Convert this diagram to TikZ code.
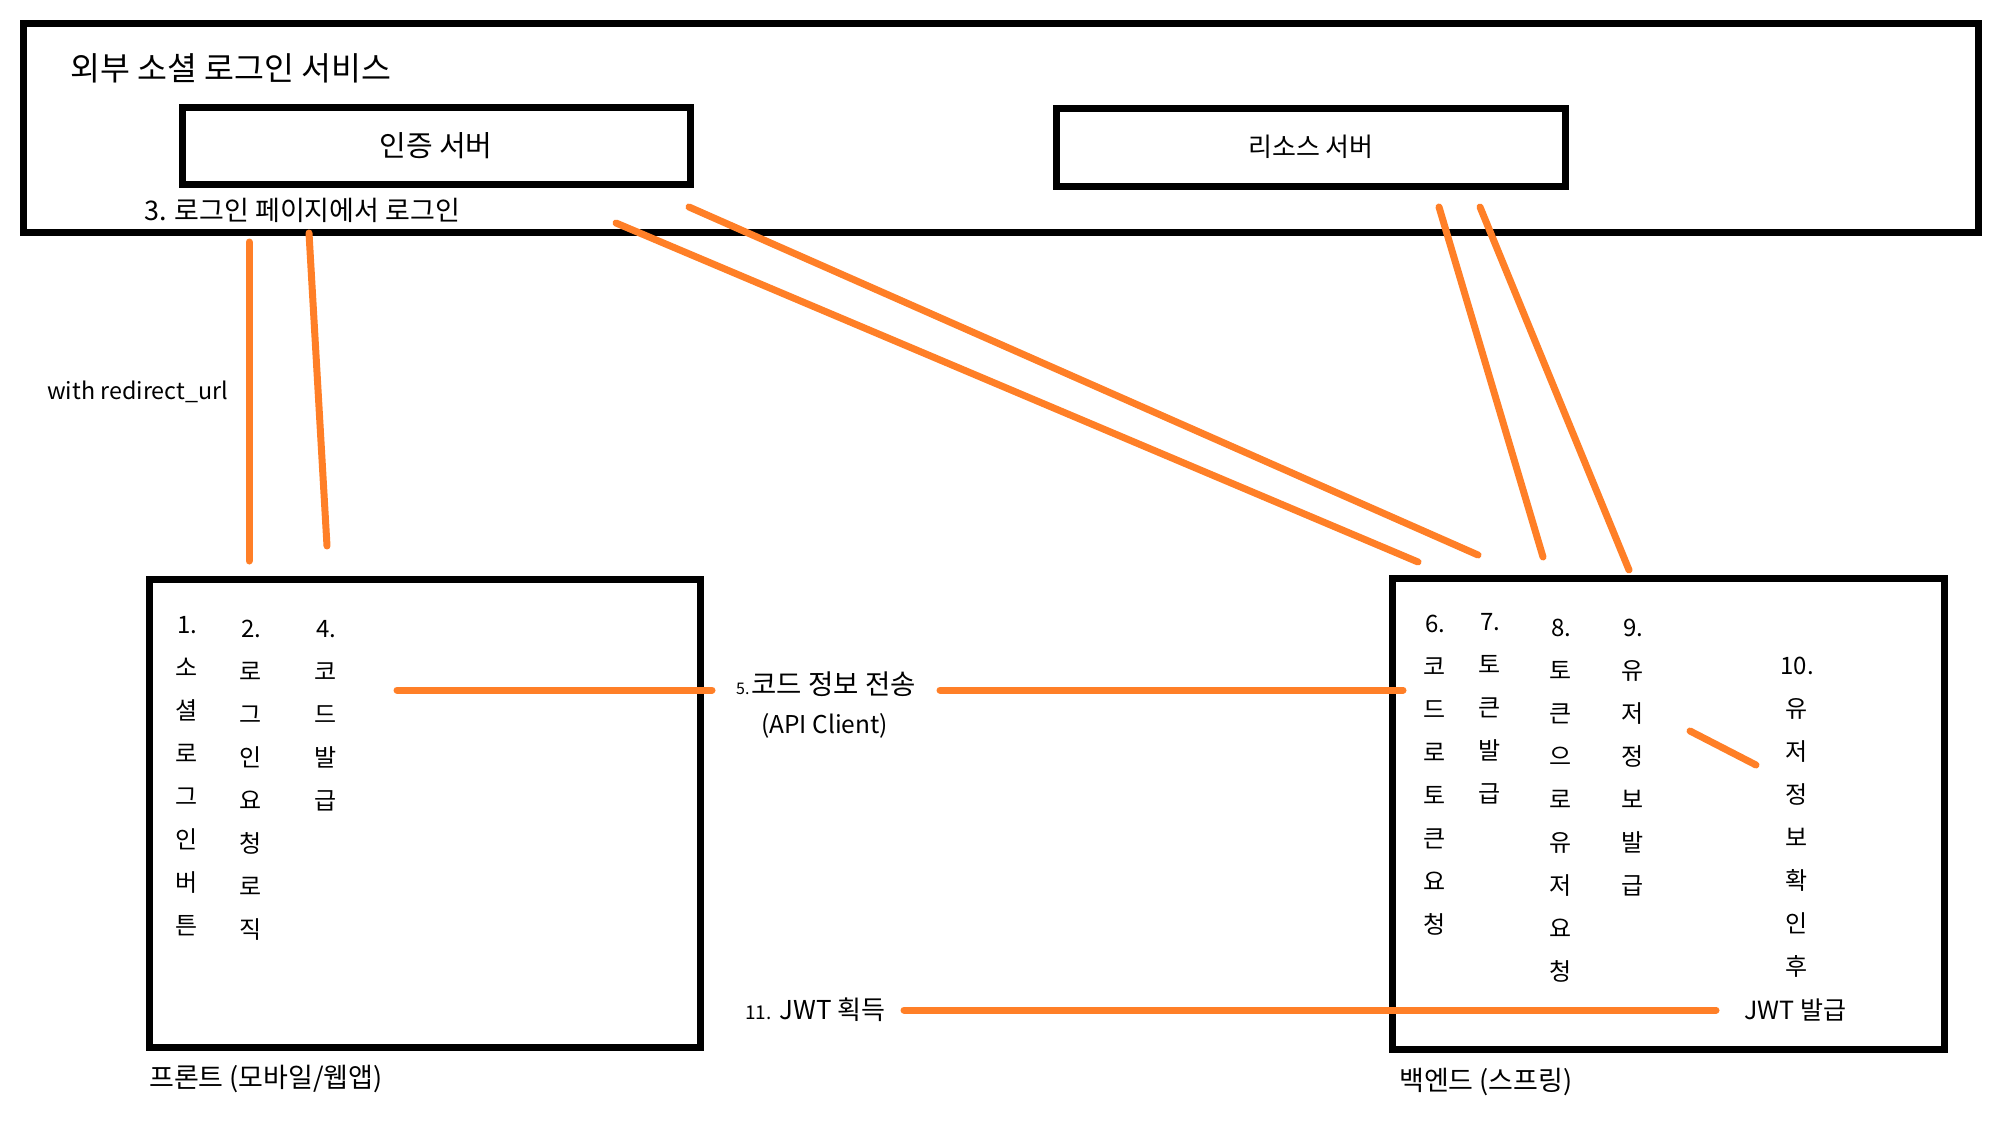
\documentclass[tikz,border=0pt]{standalone}
\usepackage{fontspec}
\setmainfont{Noto Sans CJK KR}
\usetikzlibrary{positioning}
\definecolor{paintorange}{RGB}{255,127,39}

\begin{document}
\begin{tikzpicture}[
    x=1pt, y=-1pt,
    box/.style={
        rectangle,
        draw,
        line width=7pt,
        inner sep=0pt
    },
    txt/.style={anchor=west, inner sep=0pt},
    col/.style={
        anchor=north,
        inner sep=0pt,
        align=center,
        font=\fontsize{24}{43}\selectfont
    },
    link/.style={draw=paintorange, line width=7pt, line cap=round}
]
\useasboundingbox (0,0) rectangle (2000,1124);

% Outer service
\node (social) [box, minimum width=1955pt, minimum height=209pt] at (1001,128) {};
\node (socialtitle) [txt, font=\fontsize{32.5}{38}\selectfont] at (70,68) {외부 소셜 로그인 서비스};

% Servers
\node (auth) [box, minimum width=508pt, minimum height=77pt, font=\fontsize{29}{34}\selectfont] at (436,146) {인증 서버};
\node (resource) [box, minimum width=509pt, minimum height=78pt, font=\fontsize{26}{30}\selectfont] at (1311,147) {리소스 서버};
\node (login) [txt, font=\fontsize{27}{30}\selectfont] at (144,210) {3. 로그인 페이지에서 로그인};

% Front
\node (front) [box, minimum width=551pt, minimum height=468pt] at (425,813) {};
\node (frontname) [txt, font=\fontsize{27}{32}\selectfont] at (149,1079) {프론트 (모바일/웹앱)};
\node (f1) [col] at (187,616) {1.\\소\\셜\\로\\그\\인\\버\\튼};
\node (f2) [col] at (251,620) {2.\\로\\그\\인\\요\\청\\로\\직};
\node (f4) [col] at (326,620) {4.\\코\\드\\발\\급};

% Backend
\node (back) [box, minimum width=552pt, minimum height=471pt] at (1668,814) {};
\node (backname) [txt, font=\fontsize{27}{32}\selectfont] at (1399,1082) {백엔드 (스프링)};
\node (b6) [col] at (1435,615) {6.\\코\\드\\로\\토\\큰\\요\\청};
\node (b7) [col] at (1490,613) {7.\\토\\큰\\발\\급};
\node (b8) [col] at (1561,619) {8.\\토\\큰\\으\\로\\유\\저\\요\\청};
\node (b9) [col] at (1633,619) {9.\\유\\저\\정\\보\\발\\급};
\node (b10) [col] at (1797,657) {10.\\유\\저\\정\\보\\확\\인\\후};
\node (jwtissue) [txt, font=\fontsize{25}{30}\selectfont] at (1744,1010) {JWT 발급};

% Labels between
\node (redirect) [txt, font=\fontsize{23.3}{28}\selectfont] at (47,392) {with redirect\_url};
\node (codesend) [txt, font=\fontsize{27.5}{32}\selectfont] at (736,684) {{\fontsize{16}{18}\selectfont 5.}\hspace{2pt}코드 정보 전송};
\node (apiclient) [txt, font=\fontsize{24.5}{28}\selectfont] at (761,726) {(API Client)};
\node (jwtget) [txt, font=\fontsize{26}{30}\selectfont] at (745,1010) {{\fontsize{19}{20}\selectfont 11.} JWT 획득};

% Connector ends
\coordinate (redirA) at (249,242);
\coordinate (redirB) at (249,561);
\coordinate (codeA) at (309,233);
\coordinate (codeB) at (327,546);
\coordinate (tokA) at (616,223);
\coordinate (tokB) at (1418,562);
\coordinate (tokC) at (689,207);
\coordinate (tokD) at (1478,555);
\coordinate (userA) at (1439,207);
\coordinate (userB) at (1543,557);
\coordinate (userC) at (1480,207);
\coordinate (userD) at (1629,570);
\coordinate (sendA) at (397,690);
\coordinate (sendB) at (712,690);
\coordinate (sendC) at (940,690);
\coordinate (sendD) at (1403,690);
\coordinate (checkA) at (1690,731);
\coordinate (checkB) at (1756,765);
\coordinate (jwtA) at (904,1010);
\coordinate (jwtB) at (1716,1010);

% Connections
\draw [link] (redirA) -- (redirB);
\draw [link] (codeA) -- (codeB);
\draw [link] (tokA) -- (tokB);
\draw [link] (tokC) -- (tokD);
\draw [link] (userA) -- (userB);
\draw [link] (userC) -- (userD);
\draw [link] (sendA) -- (sendB);
\draw [link] (sendC) -- (sendD);
\draw [link] (checkA) -- (checkB);
\draw [link] (jwtA) -- (jwtB);

\end{tikzpicture}
\end{document}
